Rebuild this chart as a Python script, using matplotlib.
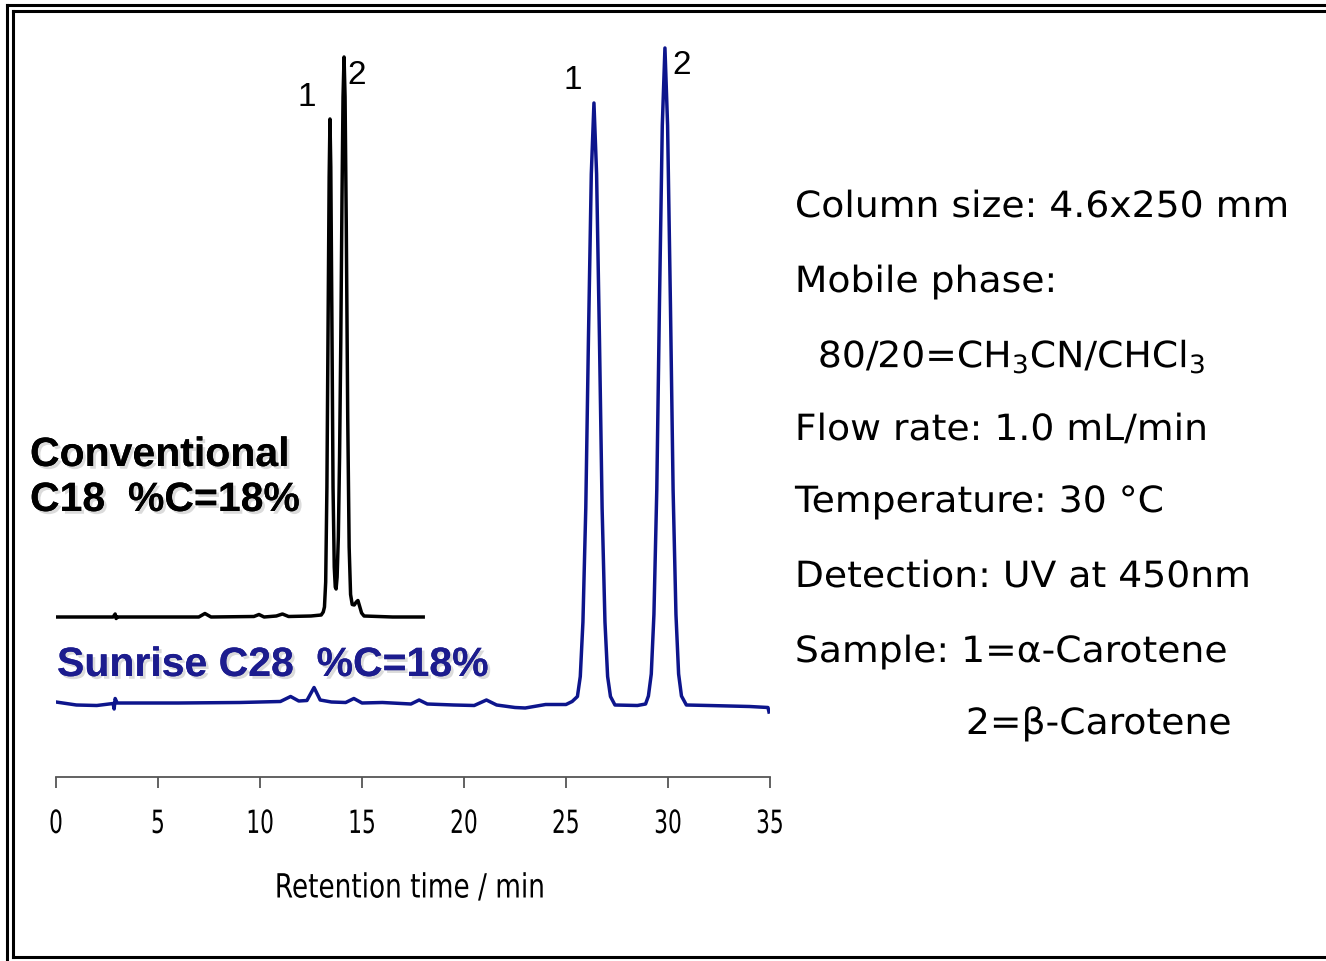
import matplotlib
matplotlib.use("Agg")
import matplotlib.pyplot as plt
import matplotlib.patheffects as pe
from matplotlib.lines import Line2D
from matplotlib.path import Path

# conventional C18 trace: retention time (min) and signal (arbitrary units above baseline)
c18_time = [0.0, 2.8, 2.9, 2.95, 3.0, 5.0, 7.0, 7.3, 7.6, 9.7, 9.95, 10.2, 10.8, 11.1, 11.4, 12.5, 13.0,
            13.10, 13.16, 13.22, 13.28, 13.34, 13.39, 13.43, 13.47, 13.52, 13.58, 13.64, 13.69, 13.73,
            13.78, 13.84, 13.90, 13.96, 14.02, 14.07, 14.12, 14.17, 14.23, 14.30, 14.37, 14.44, 14.52,
            14.62, 14.72, 14.80, 14.88, 14.98, 15.10, 16.5, 18.0]
c18_signal = [0.0, 0.0, 0.6, -0.3, 0.0, 0.0, 0.0, 0.7, 0.0, 0.1, 0.5, 0.0, 0.2, 0.6, 0.1, 0.2, 0.4,
              1.0, 2.0, 7.0, 26.0, 60.0, 88.0, 99.6, 90.0, 62.0, 26.0, 10.0, 6.0, 5.6,
              8.0, 16.0, 32.0, 55.0, 84.0, 104.0, 112.0, 104.0, 78.0, 40.0, 14.0, 4.5, 2.5,
              2.4, 3.0, 3.3, 2.2, 0.8, 0.2, 0.0, 0.0]

# Sunrise C28 trace
c28_time = [0.0, 1.0, 2.0, 2.8, 2.85, 2.9, 3.0, 6.0, 9.0, 10.0, 11.0, 11.5, 11.9, 12.3, 12.65, 12.95,
            13.5, 14.2, 14.6, 15.0, 16.0, 17.4, 17.8, 18.2, 19.5, 20.5, 21.1, 21.6, 22.5, 23.0, 24.0,
            25.0, 25.3,
            25.56, 25.70, 25.83, 25.97, 26.10, 26.24, 26.37, 26.50, 26.64, 26.77, 26.91, 27.04, 27.18,
            27.4, 28.5, 28.9,
            29.04, 29.18, 29.31, 29.45, 29.58, 29.72, 29.85, 29.98, 30.12, 30.25, 30.39, 30.52, 30.66,
            30.9, 32.0, 34.0, 34.9, 34.95]
c28_signal = [0.2, -0.4, -0.5, -0.1, -1.2, 0.9, 0.0, 0.0, 0.1, 0.2, 0.3, 1.3, 0.4, 0.5, 3.1, 0.6,
              0.2, 0.1, 0.9, 0.0, 0.1, -0.2, 0.6, -0.2, -0.4, -0.5, 0.6, -0.4, -0.9, -1.0, -0.3,
              -0.3, 0.3,
              1.3, 5.3, 16.2, 39.0, 72.8, 105.8, 120.0, 105.8, 72.8, 39.0, 16.2, 5.3, 1.3,
              -0.4, -0.5, -0.2,
              1.4, 5.8, 17.7, 42.6, 79.5, 115.5, 131.0, 115.5, 79.5, 42.6, 17.7, 5.8, 1.4,
              -0.4, -0.5, -0.7, -0.9, -1.8]

c18_offset = 32.0
c28_offset = 14.8

# peak labels: (label, time, height)
c18_peak_labels = [("1", 12.3, 136.0), ("2", 14.75, 140.5)]
c28_peak_labels = [("1", 25.35, 139.5), ("2", 30.65, 142.5)]

xticks = [0, 5, 10, 15, 20, 25, 30, 35]

conditions = [
    "Column size: 4.6x250 mm",
    "Mobile phase:",
    "  80/20=CH$_3$CN/CHCl$_3$",
    "Flow rate: 1.0 mL/min",
    "Temperature: 30 \u00b0C",
    "Detection: UV at 450nm",
    "Sample: 1=\u03b1-Carotene",
]


class Stretch(pe.AbstractPathEffect):
    # scale text horizontally (no condensed / geometric fonts installed)
    def __init__(self, sx, anchor="center"):
        super().__init__()
        self.sx = sx
        self.anchor = anchor

    def draw_path(self, renderer, gc, tpath, affine, rgbFace=None):
        v = tpath.vertices.copy()
        if tpath.codes is not None:
            keep = tpath.codes != Path.CLOSEPOLY
        else:
            keep = slice(None)
        xs = v[keep, 0]
        if len(xs):
            x0 = xs.min() if self.anchor == "left" else (xs.min() + xs.max()) / 2
            v[:, 0] = x0 + self.sx * (v[:, 0] - x0)
        renderer.draw_path(gc, Path(v, tpath.codes), affine, rgbFace)


W, H = 1326, 962
fig = plt.figure(figsize=(W / 100, H / 100), dpi=100)
fig.patch.set_facecolor("white")

ax = fig.add_axes([56 / W, 184 / H, 714 / W, 758 / H])
ax.plot(c18_time, [s + c18_offset for s in c18_signal], color="black", lw=2.5, solid_joinstyle="round")
ax.plot(c28_time, [s + c28_offset for s in c28_signal], color="#0d158c", lw=2.5, solid_joinstyle="round")

for lab, t, y in c18_peak_labels + c28_peak_labels:
    ax.text(t, y, lab, fontsize=24, family="Liberation Sans", ha="center", va="center")

ax.set_xlim(0, 35)
ax.set_ylim(0, 151.6)
ax.set_xticks(xticks)
for s in ["top", "left", "right"]:
    ax.spines[s].set_visible(False)
ax.spines["bottom"].set_color("#555555")
ax.spines["bottom"].set_linewidth(1.3)
ax.set_yticks([])
ax.tick_params(axis="x", direction="out", length=8, width=1.3, color="#555555", pad=15)
for lbl in ax.get_xticklabels():
    lbl.set_family("DejaVu Sans")
    lbl.set_fontsize(23)
    lbl.set_path_effects([Stretch(0.68)])

fig.text(410 / W, 1 - 889 / H, "Retention time / min", fontsize=24, family="DejaVu Sans",
         ha="center", va="center", path_effects=[Stretch(0.79)])

shadow = [pe.withSimplePatchShadow(offset=(2, -2), shadow_rgbFace="#999999", alpha=0.35), pe.Normal()]
fig.text(30 / W, 1 - 456 / H, "Conventional", fontsize=29.5, weight="bold", family="Liberation Sans",
         va="center", path_effects=shadow)
fig.text(30 / W, 1 - 501 / H, "C18  %C=18%", fontsize=29.5, weight="bold", family="Liberation Sans",
         va="center", path_effects=shadow)
fig.text(57 / W, 1 - 666 / H, "Sunrise C28  %C=18%", fontsize=29.5, weight="bold", family="Liberation Sans",
         color="#1c1c8e", va="center", path_effects=shadow)

line_y = [208, 283, 358, 431, 503, 578, 653]
wide = [Stretch(1.045, anchor="left")]
for txt, y in zip(conditions, line_y):
    fig.text(795 / W, 1 - y / H, txt, fontsize=26, family="DejaVu Sans", va="center", path_effects=wide)
fig.text(966 / W, 1 - 725 / H, "2=\u03b2-Carotene", fontsize=26, family="DejaVu Sans", va="center",
         path_effects=wide)

# double frame
frame = [
    ((7, W), (6, 6)), ((7, 7), (6, H)),
    ((13, W), (12, 12)), ((13, 13), (12, 958)), ((13, W), (958, 958)),
]
for xs, ys in frame:
    fig.add_artist(Line2D([x / W for x in xs], [1 - y / H for y in ys], color="black", lw=2.2,
                          transform=fig.transFigure))

fig.savefig("out.png", dpi=100)
